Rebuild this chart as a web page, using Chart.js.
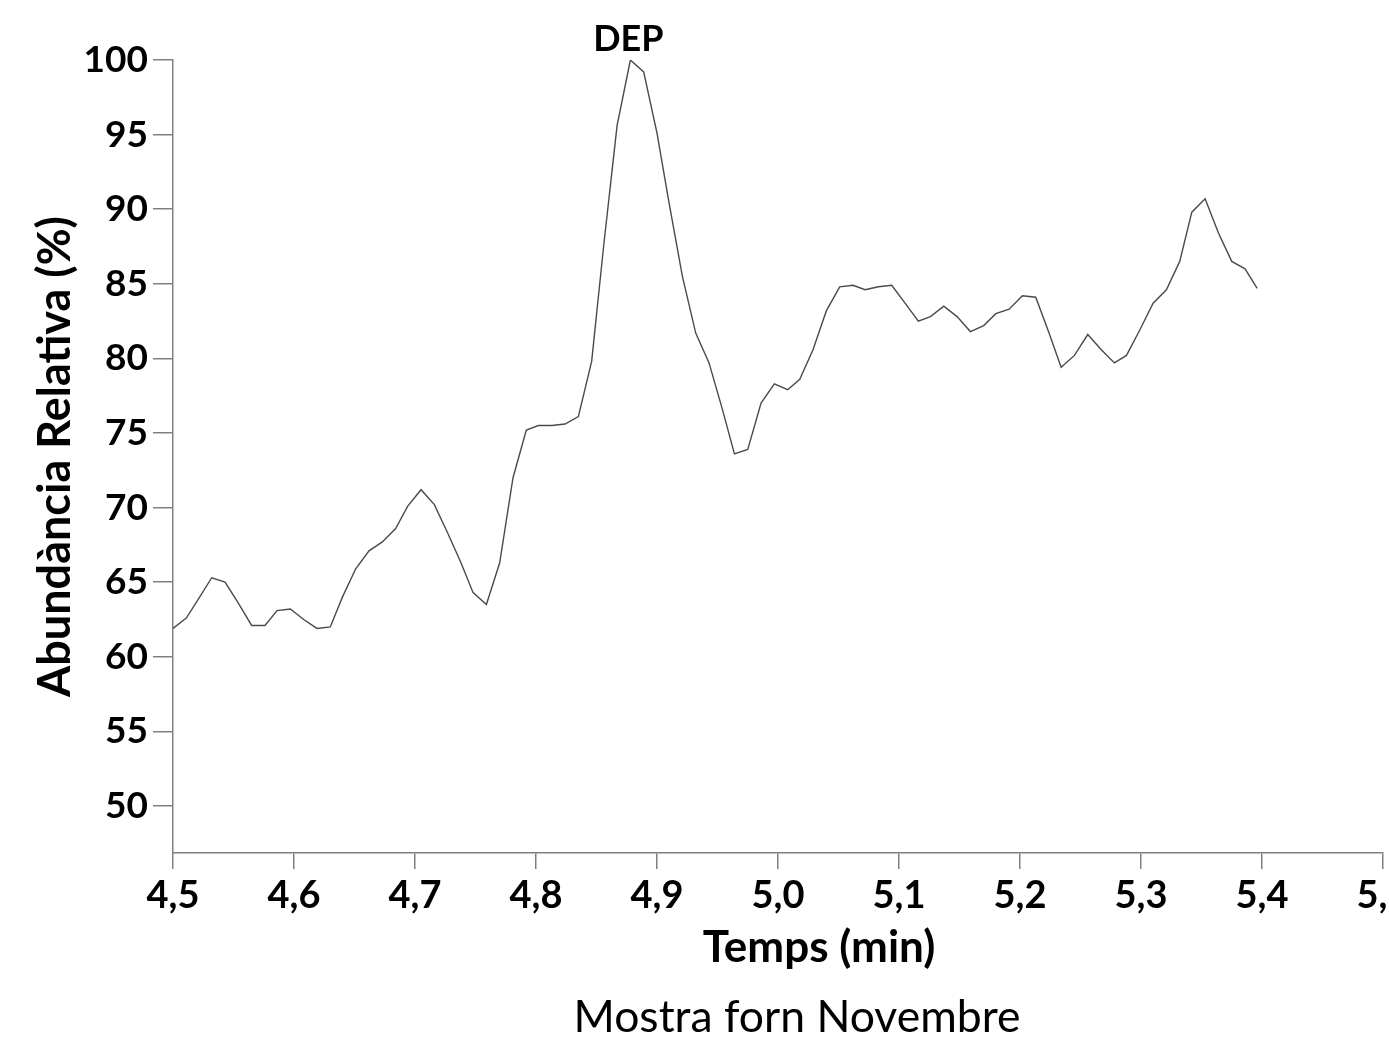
<!DOCTYPE html>
<html>
<head>
<meta charset="utf-8">
<script src="https://cdn.jsdelivr.net/npm/chart.js@4/dist/chart.umd.min.js"></script>
<style>
  html, body { margin: 0; padding: 0; background: #ffffff; overflow: hidden; }
  #wrap { position: relative; width: 1430px; height: 1039px; }
</style>
</head>
<body>
<div id="wrap"><canvas id="c"></canvas></div>
<script>
// Retention times (min)
const times = [
  4.500, 4.511, 4.522, 4.532, 4.543, 4.554, 4.565, 4.576, 4.586, 4.597,
  4.608, 4.619, 4.630, 4.640, 4.651, 4.662, 4.673, 4.684, 4.694, 4.705,
  4.716, 4.727, 4.738, 4.748, 4.759, 4.770, 4.781, 4.792, 4.802, 4.813,
  4.824, 4.835, 4.846, 4.856, 4.867, 4.878, 4.889, 4.900, 4.910, 4.921,
  4.932, 4.943, 4.954, 4.964, 4.975, 4.986, 4.997, 5.008, 5.018, 5.029,
  5.040, 5.051, 5.062, 5.072, 5.083, 5.094, 5.105, 5.116, 5.126, 5.137,
  5.148, 5.159, 5.170, 5.180, 5.191, 5.202, 5.213, 5.224, 5.234, 5.245,
  5.256, 5.267, 5.278, 5.288, 5.299, 5.310, 5.321, 5.332, 5.342, 5.353,
  5.364, 5.375, 5.386, 5.396
];
// Relative abundance (%)
const abundance = [
  61.9, 62.6, 64.0, 65.3, 65.0, 63.6, 62.1, 62.1, 63.1, 63.2,
  62.5, 61.9, 62.0, 64.0, 65.9, 67.1, 67.7, 68.6, 70.1, 71.2,
  70.2, 68.3, 66.3, 64.3, 63.5, 66.3, 72.0, 75.2, 75.5, 75.5,
  75.6, 76.1, 79.8, 87.6, 95.6, 100.0, 99.2, 95.1, 90.4, 85.5,
  81.7, 79.7, 76.6, 73.6, 73.9, 77.0, 78.3, 77.9, 78.6, 80.6,
  83.2, 84.8, 84.9, 84.6, 84.8, 84.9, 83.7, 82.5, 82.8, 83.5,
  82.8, 81.8, 82.2, 83.0, 83.3, 84.2, 84.1, 81.7, 79.4, 80.2,
  81.6, 80.6, 79.7, 80.2, 81.9, 83.7, 84.6, 86.5, 89.8, 90.7,
  88.4, 86.5, 86.0, 84.7
];
// Axis settings
const xMin = 4.5, xMax = 5.5, xStep = 0.1;
const yMin = 46.85, yMax = 100, yStep = 5;
const peakLabel = 'DEP';
const peakIndex = 35;
const xTitle = 'Temps (min)';
const yTitle = 'Abundància Relativa (%)';
const caption = 'Mostra forn Novembre';

const points = times.map((t, i) => ({ x: t, y: abundance[i] }));

const textPlugin = {
  id: 'extraText',
  afterDraw(chart) {
    const ctx = chart.ctx;
    ctx.save();
    ctx.fillStyle = '#000';
    ctx.textAlign = 'center';
    ctx.textBaseline = 'alphabetic';
    // Peak annotation
    const meta = chart.getDatasetMeta(0);
    const pt = meta.data[peakIndex];
    ctx.font = 'bold 36px Lato';
    ctx.fillText(peakLabel, pt.x - 2, pt.y - 9);
    // X-axis title
    ctx.font = 'bold 44px Lato';
    ctx.fillText(xTitle, 819, 962);
    // Caption
    ctx.font = '44.5px Lato';
    ctx.fillText(caption, 797, 1032);
    ctx.restore();
  }
};

new Chart(document.getElementById('c'), {
  type: 'line',
  data: {
    datasets: [{
      data: points,
      borderColor: '#4a4a4a',
      borderWidth: 1.4,
      pointRadius: 0,
      fill: false,
      tension: 0
    }]
  },
  options: {
    responsive: true,
    maintainAspectRatio: false,
    animation: false,
    events: [],
    layout: { padding: { top: 60, right: 47, bottom: 0, left: 0 } },
    plugins: {
      legend: { display: false },
      tooltip: { enabled: false }
    },
    scales: {
      x: {
        type: 'linear',
        min: xMin,
        max: xMax,
        afterFit(scale) { scale.height = 186; },
        grid: { display: true, drawOnChartArea: false, drawTicks: true, tickLength: 16, color: '#808080', lineWidth: 1.5 },
        border: { display: true, color: '#808080', width: 1.5 },
        ticks: {
          stepSize: xStep,
          autoSkip: false,
          maxRotation: 0,
          padding: 4,
          color: '#000',
          font: { family: 'Lato', weight: 'bold', size: 38 },
          callback: (v) => v.toFixed(1).replace('.', ',')
        },
        title: { display: false }
      },
      y: {
        type: 'linear',
        min: yMin,
        max: yMax,
        afterFit(scale) { scale.width = 173; },
        grid: { display: true, drawOnChartArea: false, drawTicks: true, tickLength: 20, color: '#808080', lineWidth: 1.5 },
        border: { display: true, color: '#808080', width: 1.5 },
        ticks: {
          stepSize: yStep,
          includeBounds: false,
          padding: 5,
          color: '#000',
          font: { family: 'Lato', weight: 'bold', size: 37 },
          callback: (v) => String(v)
        },
        title: {
          display: true,
          text: yTitle,
          color: '#000',
          font: { family: 'Lato', weight: 'bold', size: 45 },
          padding: { top: 28, bottom: 0 }
        }
      }
    }
  },
  plugins: [textPlugin]
});
</script>
</body>
</html>
